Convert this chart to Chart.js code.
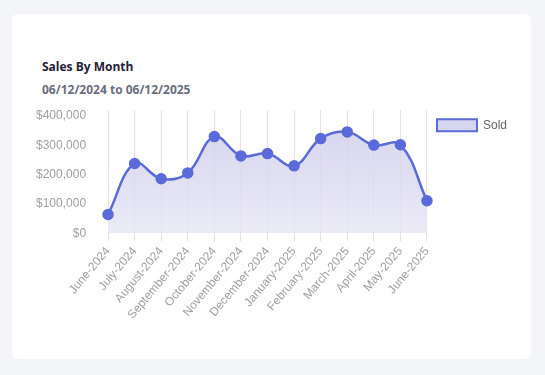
<!DOCTYPE html>
<html>
<head>
<meta charset="utf-8">
<script src="https://cdn.jsdelivr.net/npm/chart.js@4.4.1/dist/chart.umd.min.js"></script>
<style>
  html, body { margin: 0; padding: 0; background: #f4f5f9; width: 545px; height: 375px; overflow: hidden; }
  .card { position: absolute; left: 12px; top: 14px; width: 519px; height: 345px; background: #ffffff; border-radius: 6px; }
  .title { position: absolute; left: 42px; top: 58px; font-family: "Open Sans", sans-serif; font-weight: 700; font-size: 12px; color: #1f2235; }
  .sub { position: absolute; left: 42px; top: 81px; font-family: "Open Sans", sans-serif; font-weight: 700; font-size: 12px; color: #6b6e7e; }
  .wrap { position: absolute; left: 33px; top: 100px; width: 484px; height: 225px; }
</style>
</head>
<body>
<div class="card"></div>
<div class="title">Sales By Month</div>
<div class="sub">06/12/2024 to 06/12/2025</div>
<div class="wrap"><canvas id="c" width="484" height="225"></canvas></div>
<script>
const months = ["June-2024","July-2024","August-2024","September-2024","October-2024","November-2024","December-2024","January-2025","February-2025","March-2025","April-2025","May-2025","June-2025"];
const sold = [64000, 238000, 186000, 206000, 330000, 264000, 272000, 230000, 323000, 346000, 301000, 302000, 111000];
const yTicks = [0, 100000, 200000, 300000, 400000];
const seriesLabel = "Sold";

const ctx = document.getElementById('c').getContext('2d');
new Chart(ctx, {
  type: 'line',
  data: {
    labels: months,
    datasets: [{
      label: seriesLabel,
      data: sold,
      borderColor: '#5b6ad9',
      borderWidth: 2.5,
      pointBackgroundColor: '#5b6ad9',
      pointBorderColor: '#5b6ad9',
      pointRadius: 4.5,
      tension: 0.4,
      fill: true,
      backgroundColor: function(context) {
        const chart = context.chart;
        const area = chart.chartArea;
        if (!area) return 'rgba(210,208,236,0.7)';
        const g = chart.ctx.createLinearGradient(0, area.top, 0, area.bottom);
        g.addColorStop(0, 'rgba(205,203,233,0.85)');
        g.addColorStop(1, 'rgba(232,231,246,0.85)');
        return g;
      }
    }]
  },
  options: {
    responsive: false,
    animation: false,
    maintainAspectRatio: false,
    layout: { padding: 0 },
    plugins: {
      legend: {
        position: 'right',
        align: 'start',
        title: { display: true, text: ' ', font: { size: 1 }, padding: { top: 0, bottom: 8 } },
        labels: {
          boxWidth: 40,
          boxHeight: 12,
          color: '#666',
          font: { family: 'Liberation Sans, Arial', size: 12 },
          generateLabels: function(chart) {
            return [{
              text: seriesLabel,
              fillStyle: 'rgba(215,214,240,1)',
              strokeStyle: '#5b6ad9',
              lineWidth: 2,
              fontColor: '#666',
              datasetIndex: 0
            }];
          }
        }
      },
      tooltip: { enabled: false }
    },
    scales: {
      x: {
        border: { display: false },
        grid: { color: 'rgba(235,205,215,0.7)', drawTicks: true, tickLength: 8 },
        ticks: { color: '#a0a0a0', maxRotation: 50, minRotation: 50, font: { family: 'Liberation Sans, Arial', size: 12 } }
      },
      y: {
        min: 0,
        max: 420000,
        border: { display: false },
        grid: { display: true, drawOnChartArea: false, drawTicks: true, tickLength: 19, color: 'rgba(0,0,0,0)' },
        afterBuildTicks: function(scale) {
          scale.ticks = yTicks.map(v => ({ value: v }));
        },
        ticks: {
          padding: 3,
          color: '#a0a0a0',
          font: { family: 'Liberation Sans, Arial', size: 12 },
          callback: v => '$' + v.toLocaleString('en-US')
        }
      }
    }
  }
});
</script>
</body>
</html>
